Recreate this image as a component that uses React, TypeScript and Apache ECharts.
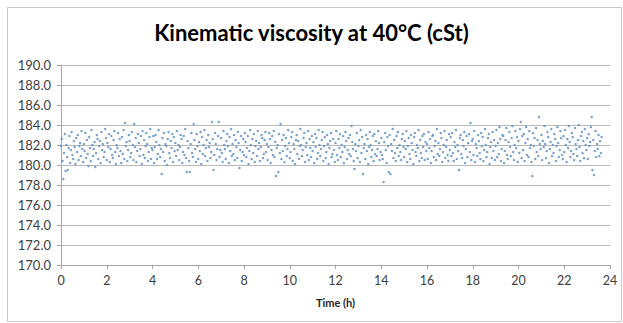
import React, { useEffect, useRef } from "react";
import * as echarts from "echarts";

const title = "Kinematic viscosity at 40°C (cSt)";
const xAxisName = "Time (h)";
const xTicks = [0, 2, 4, 6, 8, 10, 12, 14, 16, 18, 20, 22, 24];
const yMin = 170;
const yMax = 190;
const yStep = 2;
// samples logged every 2 minutes
const sampleStartHours = 0;
const sampleIntervalHours = 1 / 30;
const viscosity = [
  181.9, 182.6, 180.4, 178.6, 181.2, 183.1, 179.4, 182.0, 180.8, 179.5, 181.7, 182.9, 180.2, 181.5, 183.3, 181.0, 180.6, 182.4, 181.8, 180.1, 182.7, 181.3, 183.0, 180.5, 181.9, 182.2, 180.9, 183.4, 181.6, 180.3,
  182.1, 181.4, 183.2, 180.7, 182.5, 181.1, 179.9, 182.8, 181.7, 180.4, 183.5, 182.0, 180.9, 181.6, 182.3, 179.8, 181.2, 183.0, 182.6, 180.6, 181.9, 182.4, 180.2, 183.3, 181.5, 182.1, 180.8, 181.3, 183.6, 182.7,
  180.5, 182.2, 181.8, 183.1, 180.3, 181.6, 182.9, 181.0, 180.7, 182.5, 183.4, 181.3, 180.1, 182.0, 181.7, 183.2, 180.9, 182.6, 181.4, 180.2, 182.8, 181.1, 183.5, 180.6, 184.2, 181.9, 182.3, 180.4, 181.5, 183.0,
  182.4, 180.8, 181.2, 183.3, 182.0, 180.5, 184.1, 181.8, 182.7, 180.3, 181.4, 183.1, 182.2, 180.9, 181.6, 182.9, 180.1, 183.4, 181.0, 182.5, 180.7, 181.9, 183.2, 182.1, 180.4, 181.3, 182.8, 183.6, 180.6, 181.7,
  181.5, 182.9, 180.2, 181.8, 183.0, 182.3, 180.6, 181.1, 183.5, 182.0, 180.8, 181.6, 179.1, 182.7, 181.3, 183.2, 180.4, 182.1, 181.9, 180.0, 182.6, 183.3, 181.2, 180.7, 182.4, 181.7, 183.1, 180.3, 182.8, 181.4,
  182.2, 180.9, 183.4, 181.5, 182.0, 180.5, 181.8, 183.0, 182.6, 180.2, 181.3, 182.9, 181.0, 183.6, 180.7, 179.3, 182.4, 181.7, 180.4, 179.3, 182.1, 183.2, 181.2, 180.8, 184.1, 182.5, 181.6, 180.3, 183.1, 181.9,
  180.6, 182.3, 181.4, 183.3, 180.1, 182.8, 181.1, 182.0, 183.5, 180.9, 181.7, 182.5, 180.4, 183.0, 181.8, 182.2, 180.7, 181.3, 184.3, 182.6, 179.5, 181.0, 183.2, 182.1, 180.5, 181.6, 182.9, 184.3, 180.8, 181.5,
  182.7, 181.2, 180.3, 183.4, 182.0, 181.6, 180.6, 182.4, 183.1, 181.9, 180.2, 182.8, 181.4, 183.6, 180.9, 182.1, 181.1, 183.0, 180.5, 182.5, 181.8, 180.7, 183.3, 182.2, 179.7, 181.5, 182.9, 180.4, 181.3, 182.6,
  181.0, 183.2, 182.3, 180.8, 181.7, 182.9, 180.1, 181.4, 183.5, 182.0, 180.6, 182.6, 181.2, 183.1, 180.3, 181.9, 182.4, 180.9, 183.4, 181.6, 182.2, 180.4, 181.8, 183.0, 182.7, 180.7, 181.1, 182.5, 183.3, 181.3,
  182.1, 180.5, 181.8, 183.2, 182.6, 180.2, 181.5, 182.9, 181.0, 183.4, 180.8, 182.3, 178.9, 181.7, 182.0, 179.3, 183.1, 181.2, 184.1, 180.6, 182.5, 181.4, 183.0, 180.3, 181.9, 182.7, 180.9, 181.6, 183.5, 182.2,
  180.7, 181.3, 182.8, 183.3, 180.4, 182.1, 181.6, 180.1, 182.5, 183.0, 181.1, 182.4, 180.6, 181.9, 183.6, 182.0, 180.9, 181.5, 182.7, 183.2, 180.3, 181.8, 182.2, 181.0, 183.4, 180.5, 182.6, 181.7, 180.8, 182.9,
  181.4, 182.3, 180.2, 183.1, 181.8, 182.7, 180.6, 181.2, 183.5, 182.0, 180.9, 181.6, 182.5, 183.3, 180.4, 181.9, 182.8, 180.7, 181.3, 183.0, 182.1, 180.1, 181.7, 182.4, 183.2, 180.8, 181.1, 182.6, 181.5, 180.3,
  182.2, 183.4, 181.0, 180.5, 182.6, 181.7, 183.1, 180.8, 182.0, 181.3, 182.9, 180.2, 181.8, 183.3, 182.4, 180.6, 181.5, 182.7, 181.1, 183.0, 180.9, 183.9, 182.3, 181.6, 180.4, 179.6, 182.1, 181.4, 183.2, 180.7,
  181.9, 182.5, 180.3, 183.5, 181.2, 182.8, 179.1, 181.7, 182.1, 180.6, 183.0, 181.4, 182.6, 180.1, 181.8, 183.3, 182.0, 180.8, 181.5, 182.9, 180.4, 183.1, 181.1, 182.4, 180.9, 181.6, 183.4, 182.2, 180.5, 181.3,
  182.7, 181.0, 180.6, 178.3, 182.3, 183.2, 181.5, 180.2, 182.8, 181.9, 179.3, 183.0, 179.1, 182.1, 181.4, 183.6, 180.7, 182.5, 181.2, 180.4, 182.9, 181.7, 183.3, 180.9, 182.0, 181.3, 180.5, 182.6, 183.1, 181.8,
  180.8, 182.4, 181.6, 183.4, 180.3, 181.9, 182.7, 181.1, 180.6, 183.0, 182.2, 181.5, 180.1, 182.8, 183.2, 181.3, 180.9, 182.0, 181.7, 183.5, 180.4, 182.5, 181.2, 180.7, 182.9, 181.8, 183.1, 180.5, 182.3, 181.4,
  182.1, 180.6, 183.3, 181.7, 182.6, 180.2, 181.4, 182.9, 183.0, 180.8, 181.9, 182.4, 180.5, 183.6, 181.1, 182.2, 180.9, 181.6, 183.2, 182.7, 180.3, 181.3, 182.0, 183.4, 180.7, 181.8, 182.5, 181.0, 180.4, 183.1,
  181.5, 182.8, 180.9, 183.2, 181.2, 180.4, 182.3, 181.8, 183.5, 180.6, 182.0, 181.4, 179.5, 182.7, 183.0, 181.1, 180.7, 182.5, 181.9, 183.3, 180.2, 181.6, 182.9, 180.8, 182.2, 183.1, 181.3, 184.2, 180.5, 182.4,
  182.6, 181.0, 183.4, 180.3, 182.1, 181.7, 180.9, 183.0, 182.4, 181.2, 180.6, 183.2, 181.9, 182.8, 180.4, 181.5, 183.6, 182.0, 180.8, 181.3, 182.7, 183.1, 180.1, 181.8, 182.3, 180.7, 183.3, 181.4, 182.5, 180.5,
  181.9, 183.5, 180.8, 182.2, 181.1, 183.8, 182.6, 180.4, 181.6, 183.0, 182.9, 180.2, 181.4, 182.5, 183.7, 181.0, 180.6, 182.3, 183.3, 181.8, 180.9, 182.7, 183.9, 181.3, 180.5, 182.0, 183.4, 181.7, 182.8, 180.3,
  182.4, 181.2, 183.6, 184.3, 180.7, 182.9, 181.5, 183.1, 180.4, 182.2, 183.8, 181.0, 182.6, 180.8, 183.4, 181.7, 182.0, 180.3, 178.9, 183.2, 181.9, 182.7, 180.6, 183.7, 181.3, 182.5, 180.9, 184.8, 182.1, 181.6,
  183.0, 180.5, 182.4, 181.8, 183.9, 182.1, 180.7, 181.4, 183.3, 182.8, 180.2, 181.6, 182.3, 183.6, 180.9, 182.0, 181.2, 183.1, 182.6, 180.4, 181.9, 183.8, 182.2, 180.8, 181.5, 183.4, 182.7, 181.0, 180.6, 182.9,
  181.3, 183.5, 182.0, 180.3, 182.6, 181.7, 183.9, 182.3, 180.8, 181.4, 183.2, 182.8, 181.1, 180.5, 183.7, 182.1, 181.6, 180.9, 182.5, 184.0, 181.8, 180.4, 182.9, 183.3, 181.2, 182.4, 180.7, 183.6, 182.0, 181.5,
  182.7, 180.6, 183.1, 181.9, 182.3, 183.8, 184.8, 179.5, 182.5, 179.0, 181.4, 183.4, 180.8, 182.1, 181.6, 183.0, 180.9, 182.4, 181.2, 182.8,
];

export default function App() {
  const ref = useRef<HTMLDivElement>(null);
  useEffect(() => {
    if (!ref.current) return;
    const chart = echarts.init(ref.current, null, { renderer: "svg" });
    const points = viscosity.map((v, i) => [sampleStartHours + i * sampleIntervalHours, v]);
    chart.setOption({
      animation: false,
      backgroundColor: "#ffffff",
      title: {
        text: title,
        left: "center",
        top: 16,
        textStyle: { fontFamily: "Lato", fontSize: 22, fontWeight: "bold", color: "#000000" },
      },
      graphic: [
        {
          type: "rect",
          shape: { x: 7.5, y: 7.5, width: 614, height: 314 },
          style: { fill: "none", stroke: "#c8c8c8", lineWidth: 1 },
          silent: true,
        },
      ],
      grid: { left: 61, right: 13, top: 65, bottom: 58 },
      xAxis: {
        type: "value",
        min: xTicks[0],
        max: xTicks[xTicks.length - 1],
        interval: 2,
        name: xAxisName,
        nameLocation: "middle",
        nameGap: 32,
        nameTextStyle: { fontFamily: "Lato", fontSize: 11, fontWeight: "bold", color: "#262626" },
        axisLine: { lineStyle: { color: "#a6a6a6" } },
        axisTick: { show: true, length: 4, lineStyle: { color: "#a6a6a6" } },
        axisLabel: { fontFamily: "Lato", fontSize: 12.5, color: "#404040", margin: 9 },
        splitLine: { show: false },
      },
      yAxis: {
        type: "value",
        min: yMin,
        max: yMax,
        interval: yStep,
        axisLine: { show: true, lineStyle: { color: "#a6a6a6" } },
        axisTick: { show: true, length: 4, lineStyle: { color: "#a6a6a6" } },
        axisLabel: {
          fontFamily: "Lato",
          fontSize: 13,
          color: "#404040",
          margin: 10,
          formatter: (v: number) => v.toFixed(1),
        },
        splitLine: { show: true, lineStyle: { color: "#b8b8b8", width: 1 } },
      },
      series: [
        {
          type: "scatter",
          data: points,
          symbol: "circle",
          symbolSize: 2.5,
          itemStyle: { color: "#6290c4", opacity: 0.85 },
        },
      ],
    });
    return () => chart.dispose();
  }, []);
  return (
    <div
      ref={ref}
      style={{ position: "fixed", left: 0, top: 0, width: 623, height: 323 }}
    />
  );
}
